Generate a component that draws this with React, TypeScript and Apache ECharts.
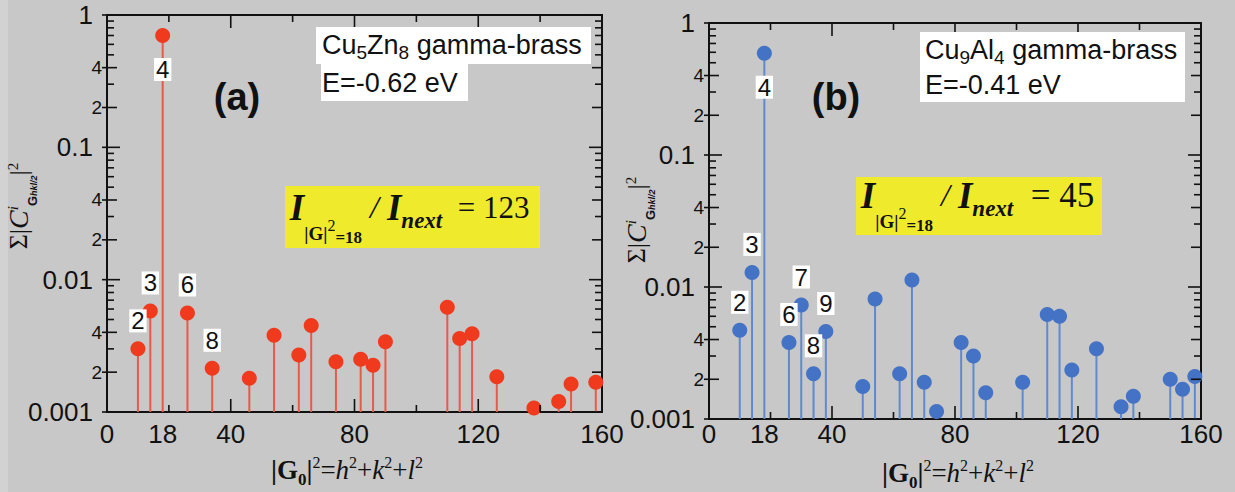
import React, { useEffect, useRef } from "react";
import * as echarts from "echarts";

// ---------- data ----------
const xTickLabels = [0, 18, 40, 80, 120, 160];
const xMajorTicks = [40, 80, 120];
const xMinorTicks = [20, 60, 100, 140];
const yDecades = [0.001, 0.01, 0.1, 1];
const yMinorLabeled = [0.002, 0.004, 0.02, 0.04, 0.2, 0.4];
const yMinorPlain = [
  0.003, 0.005, 0.006, 0.007, 0.008, 0.009,
  0.03, 0.05, 0.06, 0.07, 0.08, 0.09,
  0.3, 0.5, 0.6, 0.7, 0.8, 0.9,
];

// Panel (a) Cu5Zn8
const gA = [10, 14, 18, 26, 34, 46, 54, 62, 66, 74, 82, 86, 90, 110, 114, 118, 126, 138, 146, 150, 158];
const vA = [0.003, 0.0058, 0.7, 0.0056, 0.00214, 0.0018, 0.0038, 0.0027, 0.0045, 0.0024, 0.0025, 0.00226, 0.0034, 0.0062, 0.0036, 0.0039, 0.00185, 0.00107, 0.0012, 0.00163, 0.00168];
const labelsA = [
  { g: 10, text: "2" },
  { g: 14, text: "3" },
  { g: 18, text: "4", below: true },
  { g: 26, text: "6" },
  { g: 34, text: "8" },
];

// Panel (b) Cu9Al4
const gB = [10, 14, 18, 26, 30, 34, 38, 50, 54, 62, 66, 70, 74, 82, 86, 90, 102, 110, 114, 118, 126, 134, 138, 150, 154, 158];
const vB = [0.0047, 0.0129, 0.59, 0.0038, 0.0073, 0.0022, 0.0046, 0.00176, 0.0081, 0.0022, 0.0113, 0.0019, 0.00114, 0.0038, 0.003, 0.00158, 0.0019, 0.0062, 0.006, 0.00235, 0.0034, 0.00124, 0.00149, 0.002, 0.00168, 0.0021];
const labelsB = [
  { g: 10, text: "2" },
  { g: 14, text: "3" },
  { g: 18, text: "4", below: true },
  { g: 26, text: "6" },
  { g: 30, text: "7" },
  { g: 34, text: "8" },
  { g: 38, text: "9" },
];

const ratioA = "123";
const ratioB = "45";

// ---------- styles ----------
const SANS = "'Liberation Sans', Arial, sans-serif";
const SERIF = "'Liberation Serif', 'Times New Roman', serif";
const INK = "#111";
const BG = "#c8c8c8";
const Y_MIN = 0.001;

const yTickList = [
  ...yDecades.map((v) => ({ v, k: 0 })),
  ...yMinorLabeled.map((v) => ({ v, k: 1 })),
  ...yMinorPlain.map((v) => ({ v, k: 2 })),
];
const xTickList = [
  ...xMajorTicks.map((v) => ({ v, k: 0 })),
  ...xMinorTicks.map((v) => ({ v, k: 1 })),
];

function mantissa(v: number) {
  const e = Math.floor(Math.log10(v) + 1e-9);
  return String(Math.round(v / Math.pow(10, e)));
}

function stemSeries(i: number, g: number[], v: number[], stemColor: string, dotColor: string) {
  return {
    type: "custom",
    xAxisIndex: i,
    yAxisIndex: i,
    z: 2,
    silent: true,
    data: g.map((x, j) => [x, v[j]]),
    renderItem: (params: any, api: any) => {
      const x = api.value(0);
      const val = api.value(1);
      const top = api.coord([x, val]);
      const base = api.coord([x, Y_MIN]);
      return {
        type: "group",
        children: [
          { type: "line", shape: { x1: base[0], y1: base[1], x2: top[0], y2: top[1] }, style: { stroke: stemColor, lineWidth: 2 } },
          { type: "circle", shape: { cx: top[0], cy: top[1], r: 7.5 }, style: { fill: dotColor } },
        ],
      };
    },
  };
}

function labelSeries(i: number, g: number[], v: number[], labels: any[]) {
  return {
    type: "custom",
    xAxisIndex: i,
    yAxisIndex: i,
    z: 5,
    silent: true,
    data: labels.map((l) => [l.g, v[g.indexOf(l.g)]]),
    renderItem: (params: any, api: any) => {
      const lab = labels[params.dataIndex];
      const p = api.coord([api.value(0), api.value(1)]);
      return {
        type: "text",
        style: {
          text: lab.text,
          x: p[0],
          y: p[1] + (lab.below ? 34 : -28),
          align: "center",
          verticalAlign: "middle",
          fontSize: 24,
          fontFamily: SANS,
          fill: INK,
          backgroundColor: "#fff",
          padding: [1, 2, 0, 2],
          lineHeight: 22,
        },
      };
    },
  };
}

function yTickSeries(i: number) {
  return {
    type: "custom",
    xAxisIndex: i,
    yAxisIndex: i,
    z: 4,
    silent: true,
    data: yTickList.map((t) => [0, t.v]),
    renderItem: (params: any, api: any) => {
      const cs = params.coordSys;
      const t = yTickList[params.dataIndex];
      const y = api.coord([0, api.value(1)])[1];
      const lenIn = t.k === 0 ? 13 : t.k === 1 ? 10 : 7;
      const out = t.k < 2 ? 5 : 0;
      const left = cs.x;
      const right = cs.x + cs.width;
      const children: any[] = [
        { type: "line", shape: { x1: left - out, y1: y, x2: left + lenIn, y2: y }, style: { stroke: INK, lineWidth: 1.6 } },
        { type: "line", shape: { x1: right - lenIn, y1: y, x2: right, y2: y }, style: { stroke: INK, lineWidth: 1.6 } },
      ];
      if (t.k === 1) {
        children.push({
          type: "text",
          style: { text: mantissa(t.v), x: left - 5, y, align: "right", verticalAlign: "middle", fontSize: 19, fontFamily: SANS, fill: INK },
        });
      }
      return { type: "group", children };
    },
  };
}

function xTickSeries(i: number) {
  return {
    type: "custom",
    xAxisIndex: i,
    yAxisIndex: i,
    z: 4,
    silent: true,
    data: xTickList.map((t) => [t.v, Y_MIN]),
    renderItem: (params: any, api: any) => {
      const cs = params.coordSys;
      const t = xTickList[params.dataIndex];
      const x = api.coord([api.value(0), Y_MIN])[0];
      const len = t.k === 0 ? 13 : 7;
      const top = cs.y;
      const bottom = cs.y + cs.height;
      return {
        type: "group",
        children: [
          { type: "line", shape: { x1: x, y1: bottom, x2: x, y2: bottom - len }, style: { stroke: INK, lineWidth: 1.6 } },
          { type: "line", shape: { x1: x, y1: top, x2: x, y2: top + len }, style: { stroke: INK, lineWidth: 1.6 } },
        ],
      };
    },
  };
}

function xAxis(i: number, margin: number) {
  return {
    type: "value",
    gridIndex: i,
    min: 0,
    max: 160,
    interval: 2,
    axisLine: { show: true, onZero: false, lineStyle: { color: INK, width: 2 } },
    axisTick: { show: false },
    splitLine: { show: false },
    axisLabel: {
      fontSize: 26,
      color: INK,
      fontFamily: SANS,
      margin,
      hideOverlap: false,
      formatter: (val: number) => {
        const r = Math.round(val);
        return Math.abs(val - r) < 1e-6 && xTickLabels.includes(r) ? String(r) : "";
      },
    },
  };
}

function yAxis(i: number) {
  return {
    type: "log",
    logBase: 10,
    gridIndex: i,
    min: 0.001,
    max: 1,
    axisLine: { show: true, lineStyle: { color: INK, width: 2 } },
    axisTick: { show: false },
    minorTick: { show: false },
    splitLine: { show: false },
    axisLabel: {
      fontSize: 26,
      color: INK,
      fontFamily: SANS,
      margin: 14,
      formatter: (val: number) => String(+Number(val).toPrecision(3)),
    },
  };
}

// rotated y title (line height 36, main glyphs centred at 18)
const yTitleRich = {
  S: { fontFamily: SERIF, fontSize: 26, lineHeight: 36, height: 36, verticalAlign: "middle", fill: INK },
  b: { fontFamily: SERIF, fontSize: 26, lineHeight: 36, height: 36, verticalAlign: "middle", fill: INK },
  C: { fontFamily: SERIF, fontStyle: "italic", fontSize: 28, lineHeight: 36, height: 36, verticalAlign: "middle", fill: INK },
  i: { fontFamily: SERIF, fontStyle: "italic", fontSize: 15, lineHeight: 26, height: 26, verticalAlign: "top", fill: INK },
  G: { fontFamily: SANS, fontWeight: "bold", fontSize: 13, lineHeight: 8, height: 8, verticalAlign: "bottom", fill: INK },
  h: { fontFamily: SANS, fontWeight: "bold", fontStyle: "italic", fontSize: 9, lineHeight: 4, height: 4, verticalAlign: "bottom", fill: INK },
  two: { fontFamily: SERIF, fontSize: 15, lineHeight: 26, height: 26, verticalAlign: "top", fill: INK },
};
const yTitleText = "{S|Σ}{b||}{C|C}{i|i}{G|G}{h|hkl/2}{b||}{two|2}";

const xTitleRich = {
  b: { fontFamily: SERIF, fontWeight: "bold", fontSize: 27, lineHeight: 34, height: 34, verticalAlign: "middle", fill: INK },
  s: { fontFamily: SERIF, fontWeight: "bold", fontSize: 17, lineHeight: 16, height: 16, verticalAlign: "bottom", fill: INK },
  p: { fontFamily: SERIF, fontSize: 16, lineHeight: 18, height: 18, verticalAlign: "top", fill: INK },
  n: { fontFamily: SERIF, fontSize: 27, lineHeight: 34, height: 34, verticalAlign: "middle", fill: INK },
  i: { fontFamily: SERIF, fontStyle: "italic", fontSize: 27, lineHeight: 34, height: 34, verticalAlign: "middle", fill: INK },
};
const xTitleText = "{b||G}{s|0}{b||}{p|2}{n|=}{i|h}{p|2}{n|+}{i|k}{p|2}{n|+}{i|l}{p|2}";

// formula: line height 58; token centre = top + h/2 (top) or top + 58 - h/2 (bottom)
function formulaRich(numSize: number) {
  return {
    L: { fontSize: 10, lineHeight: 58, height: 58, verticalAlign: "middle" },
    I: { fontFamily: SERIF, fontStyle: "italic", fontWeight: "bold", fontSize: 37, lineHeight: 37, height: 37, verticalAlign: "top", fill: INK },
    G: { fontFamily: SERIF, fontWeight: "bold", fontSize: 19, lineHeight: 28, height: 28, verticalAlign: "bottom", fill: INK },
    sup: { fontFamily: SERIF, fontSize: 16, lineHeight: 44, height: 44, verticalAlign: "bottom", fill: INK },
    e: { fontFamily: SERIF, fontWeight: "bold", fontSize: 17, lineHeight: 20, height: 20, verticalAlign: "bottom", fill: INK },
    sl: { fontFamily: SERIF, fontStyle: "italic", fontSize: 32, lineHeight: 36, height: 36, verticalAlign: "top", fill: INK },
    nx: { fontFamily: SERIF, fontStyle: "italic", fontWeight: "bold", fontSize: 23, lineHeight: 54, height: 54, verticalAlign: "bottom", fill: INK },
    num: { fontFamily: SERIF, fontSize: numSize, lineHeight: 37, height: 37, verticalAlign: "top", fill: INK },
  };
}
function formula(r: string) {
  return `{L|\u200a}{I|I}{G||G|}{sup|2}{e|=18}{sl| / }{I|I}{nx|next}{num|  = ${r}}`;
}

const boxRich = {
  n: { fontFamily: SANS, fontSize: 27, lineHeight: 30, height: 30, verticalAlign: "middle", fill: INK },
  s: { fontFamily: SANS, fontSize: 19, lineHeight: 16, height: 16, verticalAlign: "bottom", fill: INK },
};

export default function App() {
  const ref = useRef<HTMLDivElement>(null);
  useEffect(() => {
    if (!ref.current) return;
    const chart = echarts.init(ref.current, undefined, { renderer: "svg" });
    const option: any = {
      animation: false,
      backgroundColor: BG,
      grid: [
        { left: 107, top: 15, width: 495, height: 397, show: true, borderColor: INK, borderWidth: 2, backgroundColor: "transparent" },
        { left: 709, top: 23, width: 492, height: 396, show: true, borderColor: INK, borderWidth: 2, backgroundColor: "transparent" },
      ],
      xAxis: [xAxis(0, 9), xAxis(1, 2)],
      yAxis: [yAxis(0), yAxis(1)],
      series: [
        stemSeries(0, gA, vA, "#e85a48", "#f03a1e"),
        stemSeries(1, gB, vB, "#5f8ad0", "#4472c4"),
        yTickSeries(0),
        yTickSeries(1),
        xTickSeries(0),
        xTickSeries(1),
        labelSeries(0, gA, vA, labelsA),
        labelSeries(1, gB, vB, labelsB),
      ],
      graphic: [
        { type: "rect", shape: { x: 0, y: 0, width: 8, height: 492 }, style: { fill: "#d2d2d2" }, z: 0 },
        // panel (a) annotations
        { type: "rect", shape: { x: 316, y: 27, width: 275, height: 37 }, style: { fill: "#fff" }, z: 10 },
        { type: "rect", shape: { x: 321, y: 63, width: 147, height: 38 }, style: { fill: "#fff" }, z: 10 },
        { type: "text", x: 322, y: 45, z: 11, style: { text: "{n|Cu}{s|5}{n|Zn}{s|8}{n| gamma-brass}", rich: boxRich, verticalAlign: "middle" } },
        { type: "text", x: 322, y: 83, z: 11, style: { text: "E=-0.62 eV", fontFamily: SANS, fontSize: 27, fill: INK, verticalAlign: "middle" } },
        { type: "text", x: 237, y: 97, z: 11, style: { text: "(a)", fontFamily: SANS, fontWeight: "bold", fontSize: 38, fill: INK, align: "center", verticalAlign: "middle" } },
        { type: "rect", shape: { x: 285, y: 186, width: 255, height: 62 }, style: { fill: "#f0ea2c" }, z: 10 },
        { type: "text", x: 289, y: 189, z: 11, style: { text: formula(ratioA), rich: formulaRich(31), verticalAlign: "top" } },
        { type: "text", x: 18, y: 206, rotation: Math.PI / 2, z: 11, style: { text: yTitleText, rich: yTitleRich, align: "center", verticalAlign: "middle" } },
        { type: "text", x: 347, y: 470, z: 11, style: { text: xTitleText, rich: xTitleRich, align: "center", verticalAlign: "middle" } },
        // panel (b) annotations
        { type: "rect", shape: { x: 920, y: 32, width: 265, height: 70 }, style: { fill: "#fff" }, z: 10 },
        { type: "text", x: 925, y: 50, z: 11, style: { text: "{n|Cu}{s|9}{n|Al}{s|4}{n| gamma-brass}", rich: boxRich, verticalAlign: "middle" } },
        { type: "text", x: 925, y: 85, z: 11, style: { text: "E=-0.41 eV", fontFamily: SANS, fontSize: 27, fill: INK, verticalAlign: "middle" } },
        { type: "text", x: 836, y: 97, z: 11, style: { text: "(b)", fontFamily: SANS, fontWeight: "bold", fontSize: 38, fill: INK, align: "center", verticalAlign: "middle" } },
        { type: "rect", shape: { x: 856, y: 177, width: 246, height: 58 }, style: { fill: "#f0ea2c" }, z: 10 },
        { type: "text", x: 860, y: 177, z: 11, style: { text: formula(ratioB), rich: formulaRich(35), verticalAlign: "top" } },
        { type: "text", x: 636, y: 220, rotation: Math.PI / 2, z: 11, style: { text: yTitleText, rich: yTitleRich, align: "center", verticalAlign: "middle" } },
        { type: "text", x: 958, y: 473, z: 11, style: { text: xTitleText, rich: xTitleRich, align: "center", verticalAlign: "middle" } },
      ],
    };
    chart.setOption(option);
    return () => chart.dispose();
  }, []);
  return (
    <div
      ref={ref}
      style={{ position: "fixed", left: 0, top: 0, width: 1235, height: 492, background: BG }}
    />
  );
}
